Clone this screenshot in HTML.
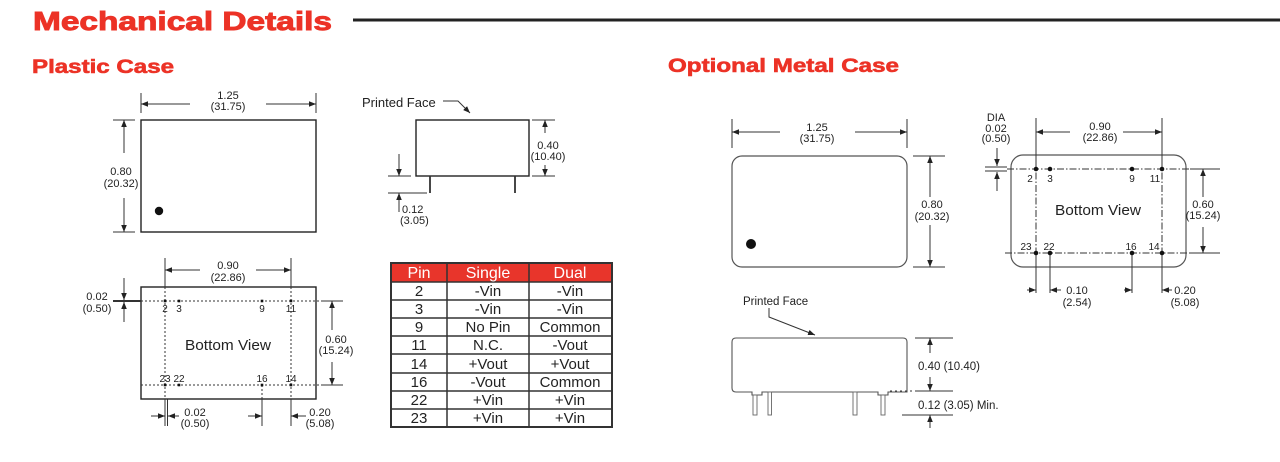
<!DOCTYPE html>
<html><head><meta charset="utf-8"><style>
html,body{margin:0;padding:0;background:#fff;}
svg{display:block;}
text{font-family:"Liberation Sans",Arial,sans-serif;fill:#222;}
</style></head><body>
<svg width="1280" height="462" viewBox="0 0 1280 462" xmlns="http://www.w3.org/2000/svg">
<defs>
<marker id="a" viewBox="0 0 10 10" refX="10" refY="5" markerWidth="7" markerHeight="7" markerUnits="userSpaceOnUse" orient="auto"><path d="M0,1 L10,5 L0,9 z" fill="#222"/></marker>
</defs>
<rect width="1280" height="462" fill="#fff"/>
<!-- Titles -->
<text x="33" y="30" font-size="26" font-weight="bold" style="fill:#ec3226;stroke:#ec3226;stroke-width:0.9" textLength="299" lengthAdjust="spacingAndGlyphs">Mechanical Details</text>
<rect x="353" y="18.5" width="927" height="3" fill="#222"/>
<text x="32" y="73" font-size="19.5" font-weight="bold" style="fill:#ec3226;stroke:#ec3226;stroke-width:0.6" textLength="142" lengthAdjust="spacingAndGlyphs">Plastic Case</text>
<text x="668" y="72" font-size="19.5" font-weight="bold" style="fill:#ec3226;stroke:#ec3226;stroke-width:0.6" textLength="231" lengthAdjust="spacingAndGlyphs">Optional Metal Case</text>

<g stroke="#333" stroke-width="1" fill="none">
<!-- Plastic top view -->
<rect x="141" y="120" width="175" height="112" stroke-width="1.4" stroke="#222"/>
<line x1="141" y1="93" x2="141" y2="113"/><line x1="316" y1="93" x2="316" y2="113"/>
<line x1="190" y1="104" x2="141" y2="104" marker-end="url(#a)"/>
<line x1="266" y1="104" x2="316" y2="104" marker-end="url(#a)"/>
<line x1="113" y1="120" x2="135" y2="120"/><line x1="113" y1="232" x2="135" y2="232"/>
<line x1="124" y1="153" x2="124" y2="120" marker-end="url(#a)"/>
<line x1="124" y1="198" x2="124" y2="232" marker-end="url(#a)"/>

<!-- Plastic side view -->
<rect x="416" y="120" width="113" height="56" stroke-width="1.4" stroke="#222"/>
<line x1="430" y1="176" x2="430" y2="193" stroke-width="1.8"/>
<line x1="515" y1="176" x2="515" y2="193" stroke-width="1.8"/>
<polyline points="443,101 458,101 470,113" marker-end="url(#a)"/>
<line x1="532" y1="120" x2="555" y2="120"/><line x1="532" y1="176" x2="555" y2="176"/>
<line x1="545" y1="133" x2="545" y2="120" marker-end="url(#a)"/>
<line x1="545" y1="165" x2="545" y2="176" marker-end="url(#a)"/>
<line x1="388" y1="176" x2="411" y2="176"/><line x1="388" y1="193" x2="427" y2="193"/>
<line x1="399" y1="154" x2="399" y2="176" marker-end="url(#a)"/>
<line x1="399" y1="212" x2="399" y2="193" marker-end="url(#a)"/>

<!-- Plastic bottom view -->
<rect x="141" y="287" width="175" height="112" stroke-width="1.4" stroke="#222"/>
<line x1="141" y1="301" x2="322" y2="301" stroke-dasharray="2,2"/>
<line x1="141" y1="385" x2="322" y2="385" stroke-dasharray="2,2"/>
<line x1="322" y1="301" x2="343" y2="301"/><line x1="322" y1="385" x2="343" y2="385"/>
<line x1="113" y1="301" x2="141" y2="301" stroke-width="2"/>
<line x1="165" y1="258" x2="165" y2="287"/><line x1="165" y1="287" x2="165" y2="399" stroke-dasharray="2,2"/><line x1="165" y1="399" x2="165" y2="426"/>
<line x1="291" y1="258" x2="291" y2="287"/><line x1="291" y1="287" x2="291" y2="399" stroke-dasharray="2,2"/><line x1="291" y1="399" x2="291" y2="426"/>
<line x1="167.5" y1="399" x2="167.5" y2="426"/>
<line x1="262" y1="385" x2="262" y2="399" stroke-dasharray="2,2"/><line x1="262" y1="399" x2="262" y2="426"/>
<line x1="200" y1="270" x2="165" y2="270" marker-end="url(#a)"/>
<line x1="256" y1="270" x2="291" y2="270" marker-end="url(#a)"/>
<line x1="124" y1="278" x2="124" y2="300" marker-end="url(#a)"/>
<line x1="124" y1="322" x2="124" y2="302" marker-end="url(#a)"/>
<line x1="332" y1="330" x2="332" y2="301" marker-end="url(#a)"/>
<line x1="332" y1="362" x2="332" y2="385" marker-end="url(#a)"/>
<line x1="151" y1="416" x2="165" y2="416" marker-end="url(#a)"/>
<line x1="179" y1="416" x2="168" y2="416" marker-end="url(#a)"/>
<line x1="248" y1="416" x2="262" y2="416" marker-end="url(#a)"/>
<line x1="306" y1="416" x2="291" y2="416" marker-end="url(#a)"/>

<!-- Metal top view -->
<rect x="732" y="156" width="175" height="111" rx="10" stroke="#555" stroke-width="1.2"/>
<line x1="732" y1="119" x2="732" y2="148"/><line x1="907" y1="119" x2="907" y2="148"/>
<line x1="780" y1="132" x2="732" y2="132" marker-end="url(#a)"/>
<line x1="855" y1="132" x2="907" y2="132" marker-end="url(#a)"/>
<line x1="913" y1="156" x2="945" y2="156"/><line x1="913" y1="267" x2="945" y2="267"/>
<line x1="930" y1="197" x2="930" y2="156" marker-end="url(#a)"/>
<line x1="930" y1="225" x2="930" y2="267" marker-end="url(#a)"/>

<!-- Metal bottom view -->
<rect x="1011" y="155" width="175" height="112" rx="12" stroke="#555" stroke-width="1.2"/>
<line x1="1007" y1="169" x2="1190" y2="169" stroke-dasharray="7,2,1.5,2"/>
<line x1="1005" y1="253" x2="1190" y2="253" stroke-dasharray="7,2,1.5,2"/>
<line x1="1190" y1="169" x2="1220" y2="169"/><line x1="1190" y1="253" x2="1220" y2="253"/>
<line x1="1036" y1="118" x2="1036" y2="160"/><line x1="1036" y1="160" x2="1036" y2="253" stroke-dasharray="7,2,1.5,2"/><line x1="1036" y1="253" x2="1036" y2="293"/>
<line x1="1162" y1="118" x2="1162" y2="160"/><line x1="1162" y1="160" x2="1162" y2="253" stroke-dasharray="7,2,1.5,2"/><line x1="1162" y1="253" x2="1162" y2="293"/>
<line x1="1050" y1="253" x2="1050" y2="293"/><line x1="1132" y1="253" x2="1132" y2="293"/>
<line x1="1070" y1="132" x2="1036" y2="132" marker-end="url(#a)"/>
<line x1="1123" y1="132" x2="1162" y2="132" marker-end="url(#a)"/>
<line x1="985" y1="167" x2="1007" y2="167"/><line x1="985" y1="171" x2="1007" y2="171"/>
<line x1="997" y1="148" x2="997" y2="166" marker-end="url(#a)"/>
<line x1="997" y1="191" x2="997" y2="172" marker-end="url(#a)"/>
<line x1="1203" y1="197" x2="1203" y2="169" marker-end="url(#a)"/>
<line x1="1203" y1="227" x2="1203" y2="253" marker-end="url(#a)"/>
<line x1="1027" y1="290" x2="1036" y2="290" marker-end="url(#a)"/>
<line x1="1061" y1="290" x2="1050" y2="290" marker-end="url(#a)"/>
<line x1="1124" y1="290" x2="1132" y2="290" marker-end="url(#a)"/>
<line x1="1172" y1="290" x2="1162" y2="290" marker-end="url(#a)"/>

<!-- Metal side view -->
<path d="M736,338 H903 Q907,338 907,342 V392 H888 V395 H878 V392 H762 V395 H752 V392 H736 Q732,392 732,388 V342 Q732,338 736,338 Z" stroke="#555" stroke-width="1.1"/>
<g stroke="#666" stroke-width="0.9" fill="#fff">
<rect x="753" y="395" width="4" height="20"/>
<rect x="768" y="392" width="3.5" height="23"/>
<rect x="853" y="392" width="4" height="23"/>
<rect x="881" y="395" width="4" height="20"/>
</g>
<polyline points="769,308 769,317 815,335" marker-end="url(#a)"/>
<line x1="915" y1="338" x2="953" y2="338"/>
<line x1="890" y1="391" x2="915" y2="391" stroke-dasharray="2,3"/><line x1="915" y1="391" x2="953" y2="391"/>
<line x1="902" y1="415" x2="953" y2="415"/>
<line x1="930" y1="353" x2="930" y2="338" marker-end="url(#a)"/>
<line x1="930" y1="377" x2="930" y2="391" marker-end="url(#a)"/>
<line x1="930" y1="428" x2="930" y2="415" marker-end="url(#a)"/>
</g>

<!-- dots -->
<circle cx="159" cy="211" r="4.2" fill="#111"/>
<circle cx="751" cy="244" r="5" fill="#111"/>
<g fill="#111">
<rect x="163.7" y="299.7" width="2.6" height="2.6"/><rect x="177.7" y="299.7" width="2.6" height="2.6"/><rect x="260.7" y="299.7" width="2.6" height="2.6"/><rect x="289.7" y="299.7" width="2.6" height="2.6"/>
<rect x="163.7" y="383.7" width="2.6" height="2.6"/><rect x="177.7" y="383.7" width="2.6" height="2.6"/><rect x="260.7" y="383.7" width="2.6" height="2.6"/><rect x="289.7" y="383.7" width="2.6" height="2.6"/>
<circle cx="1036" cy="169" r="2.3"/><circle cx="1050" cy="169" r="2.3"/><circle cx="1132" cy="169" r="2.3"/><circle cx="1162" cy="169" r="2.3"/>
<circle cx="1036" cy="253" r="2.3"/><circle cx="1050" cy="253" r="2.3"/><circle cx="1132" cy="253" r="2.3"/><circle cx="1162" cy="253" r="2.3"/>
</g>

<!-- dimension text -->
<g font-size="11" text-anchor="middle">
<text x="228" y="99">1.25</text><text x="228" y="110">(31.75)</text>
<text x="121" y="175">0.80</text><text x="121" y="187">(20.32)</text>
<text x="548" y="149">0.40</text><text x="548" y="160">(10.40)</text>
<text x="228" y="269">0.90</text><text x="228" y="281">(22.86)</text>
<text x="97" y="300">0.02</text><text x="97" y="312">(0.50)</text>
<text x="336" y="343">0.60</text><text x="336" y="354">(15.24)</text>
<text x="195" y="416">0.02</text><text x="195" y="427">(0.50)</text>
<text x="320" y="416">0.20</text><text x="320" y="427">(5.08)</text>
<text x="817" y="131">1.25</text><text x="817" y="142">(31.75)</text>
<text x="932" y="208">0.80</text><text x="932" y="220">(20.32)</text>
<text x="1100" y="130">0.90</text><text x="1100" y="141">(22.86)</text>
<text x="996" y="121">DIA</text><text x="996" y="132">0.02</text><text x="996" y="142">(0.50)</text>
<text x="1203" y="208">0.60</text><text x="1203" y="219">(15.24)</text>
<text x="1077" y="294">0.10</text><text x="1077" y="306">(2.54)</text>
<text x="1185" y="294">0.20</text><text x="1185" y="306">(5.08)</text>
</g>
<g font-size="11">
<text x="402" y="213">0.12</text><text x="400" y="224">(3.05)</text>
<text x="918" y="370" font-size="11.5">0.40 (10.40)</text>
<text x="918" y="409" font-size="11.5">0.12 (3.05) Min.</text>
</g>
<text x="362" y="107" font-size="13">Printed Face</text>
<text x="743" y="305" font-size="11.5">Printed Face</text>

<!-- pin labels -->
<g font-size="10" text-anchor="middle">
<text x="165" y="312">2</text><text x="179" y="312">3</text><text x="262" y="312">9</text><text x="291" y="312">11</text>
<text x="165" y="382">23</text><text x="179" y="382">22</text><text x="262" y="382">16</text><text x="291" y="382">14</text>
<text x="1030" y="182">2</text><text x="1050" y="182">3</text><text x="1132" y="182">9</text><text x="1155" y="182">11</text>
<text x="1026" y="250">23</text><text x="1049" y="250">22</text><text x="1131" y="250">16</text><text x="1154" y="250">14</text>
</g>
<text x="228" y="350" font-size="15" text-anchor="middle" textLength="86" lengthAdjust="spacingAndGlyphs">Bottom View</text>
<text x="1098" y="215" font-size="15" text-anchor="middle" textLength="86" lengthAdjust="spacingAndGlyphs">Bottom View</text>

<!-- Table -->
<rect x="391" y="263" width="221" height="19" fill="#e8352b"/>
<g stroke="#333" fill="none">
<rect x="391" y="263" width="221" height="164" stroke-width="2"/>
<line x1="447" y1="263" x2="447" y2="427" stroke-width="1.5"/>
<line x1="529" y1="263" x2="529" y2="427" stroke-width="1.5"/>
<line x1="391" y1="282" x2="612" y2="282" stroke-width="1.5"/>
<line x1="391" y1="300" x2="612" y2="300" stroke-width="1.5"/>
<line x1="391" y1="318" x2="612" y2="318" stroke-width="1.5"/>
<line x1="391" y1="336" x2="612" y2="336" stroke-width="1.5"/>
<line x1="391" y1="354" x2="612" y2="354" stroke-width="1.5"/>
<line x1="391" y1="373" x2="612" y2="373" stroke-width="1.5"/>
<line x1="391" y1="391" x2="612" y2="391" stroke-width="1.5"/>
<line x1="391" y1="409" x2="612" y2="409" stroke-width="1.5"/>
</g>
<g font-size="16" text-anchor="middle">
<text x="419" y="278" style="fill:#fff">Pin</text><text x="488" y="278" style="fill:#fff">Single</text><text x="570" y="278" style="fill:#fff">Dual</text>
</g>
<g font-size="15" text-anchor="middle">
<text x="419" y="296">2</text><text x="488" y="296">-Vin</text><text x="570" y="296">-Vin</text>
<text x="419" y="314">3</text><text x="488" y="314">-Vin</text><text x="570" y="314">-Vin</text>
<text x="419" y="332">9</text><text x="488" y="332">No Pin</text><text x="570" y="332">Common</text>
<text x="419" y="350">11</text><text x="488" y="350">N.C.</text><text x="570" y="350">-Vout</text>
<text x="419" y="369">14</text><text x="488" y="369">+Vout</text><text x="570" y="369">+Vout</text>
<text x="419" y="387">16</text><text x="488" y="387">-Vout</text><text x="570" y="387">Common</text>
<text x="419" y="405">22</text><text x="488" y="405">+Vin</text><text x="570" y="405">+Vin</text>
<text x="419" y="423">23</text><text x="488" y="423">+Vin</text><text x="570" y="423">+Vin</text>
</g>
</svg>
</body></html>
